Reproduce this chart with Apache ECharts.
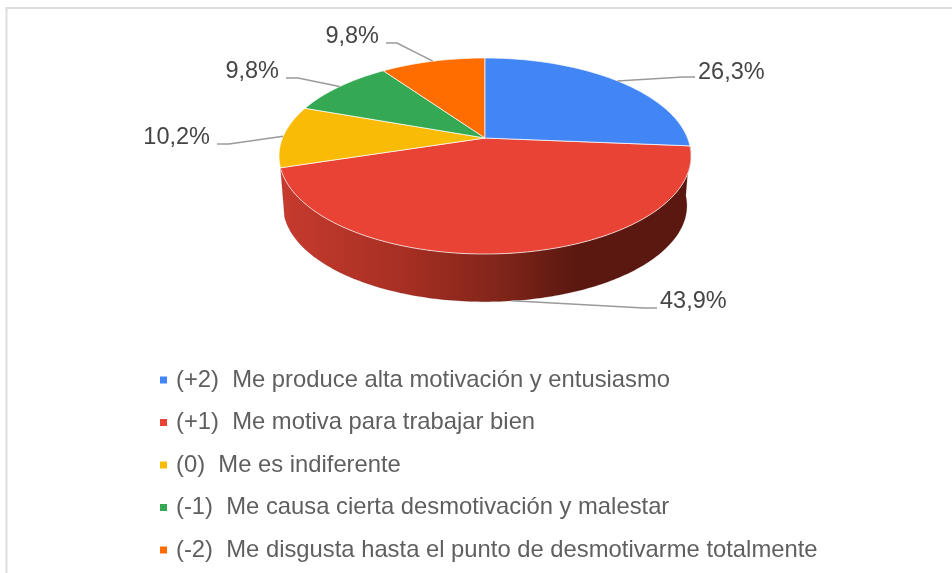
<!DOCTYPE html>
<html>
<head>
<meta charset="utf-8">
<style>html,body{margin:0;padding:0;background:#fff}#c{width:952px;height:573px}</style>
<script src="https://cdn.jsdelivr.net/npm/echarts@6/dist/echarts.min.js"></script>
</head>
<body>
<div id="c"></div>
<script>
const categories = [
  '(+2)  Me produce alta motivación y entusiasmo',
  '(+1)  Me motiva para trabajar bien',
  '(0)  Me es indiferente',
  '(-1)  Me causa cierta desmotivación y malestar',
  '(-2)  Me disgusta hasta el punto de desmotivarme totalmente'
];
const values = [26.3, 43.9, 10.2, 9.8, 9.8];
const valueLabels = ['26,3%', '43,9%', '10,2%', '9,8%', '9,8%'];
const colors = ['#4285F4', '#E94335', '#F9BB05', '#34A853', '#FF6D01'];

// Perspective projection of the pie disc (layout only)
const P = { cx: 485, cy: 138, rx: 202.5, ry: 94.7, k: 0.1837, depth: 50, bottomScale: 0.98 };
// Leader-line elbow and label anchor per slice (layout only)
const labelLayout = [
  { elbow: [683, 77], end: [695, 77], text: [698, 73], align: 'left' },
  { elbow: [644, 308], end: [657, 308], text: [660, 302], align: 'left' },
  { elbow: [229, 144], end: [217, 144], text: [210, 138], align: 'right' },
  { elbow: [298, 78], end: [286, 78], text: [279, 72], align: 'right' },
  { elbow: [397, 43], end: [386, 43], text: [379, 37], align: 'right' }
];

function project(frac, bottom) {
  const a = frac * 2 * Math.PI;
  const x = Math.sin(a), y = -Math.cos(a);
  const w = 1 - P.k * y;
  const s = bottom ? P.bottomScale : 1;
  return [P.cx + s * P.rx * x / w, P.cy + (bottom ? P.depth : 0) + s * P.ry * y / w];
}
function arc(f0, f1, bottom) {
  const n = Math.max(2, Math.ceil((f1 - f0) * 400));
  const pts = [];
  for (let i = 0; i <= n; i++) pts.push(project(f0 + (f1 - f0) * i / n, bottom));
  return pts;
}
const total = values.reduce((a, b) => a + b, 0);
const sideGradient = new echarts.graphic.LinearGradient(0, 0, 1, 0, [
  { offset: 0, color: '#C63B2E' },
  { offset: 0.3, color: '#A72F23' },
  { offset: 0.55, color: '#7E2419' },
  { offset: 0.72, color: '#5A1810' },
  { offset: 1, color: '#5A1810' }
]);

let acc = 0;
const series = categories.map((name, i) => {
  const start = acc / total;
  acc += values[i];
  const end = acc / total;
  const mid = (start + end) / 2;
  return {
    type: 'custom',
    name,
    coordinateSystem: 'none',
    itemStyle: { color: colors[i] },
    z: i === 0 ? 3 : 2,
    data: [[start, end, mid, values[i]]],
    renderItem(params, api) {
      const f0 = api.value(0), f1 = api.value(1), fm = api.value(2);
      const L = labelLayout[i];
      const children = [];
      const hasSide = f0 < 0.5 && f1 > 0.5;
      if (hasSide) {
        const top = arc(f0, f1, false);
        const bot = arc(f0, f1, true).reverse();
        children.push({
          type: 'polygon',
          shape: { points: top.concat(bot) },
          style: { fill: sideGradient, stroke: 'rgba(90,24,16,0.35)', lineWidth: 0.5 }
        });
      }
      const face = [[P.cx, P.cy]].concat(arc(f0, f1, false));
      children.push({
        type: 'polygon',
        shape: { points: face },
        style: { fill: colors[i], stroke: 'rgba(255,255,255,0.7)', lineWidth: 1 }
      });
      const anchor = project(fm, hasSide);
      children.push({
        type: 'polyline',
        shape: { points: [anchor, L.elbow, L.end] },
        style: { fill: null, stroke: '#9A9A9A', lineWidth: 1.5 }
      });
      children.push({
        type: 'text',
        style: {
          x: L.text[0], y: L.text[1],
          text: valueLabels[i],
          fill: '#454545',
          font: '23.5px "Liberation Sans", Arial, sans-serif',
          align: L.align, verticalAlign: 'middle'
        }
      });
      return { type: 'group', children };
    }
  };
});

const chart = echarts.init(document.getElementById('c'), null, { renderer: 'canvas' });
chart.setOption({
  animation: false,
  backgroundColor: '#fff',
  legend: {
    orient: 'vertical',
    left: 160,
    top: 368,
    padding: 0,
    icon: 'rect',
    itemWidth: 7,
    itemHeight: 7,
    itemGap: 18.5,
    selectedMode: false,
    data: categories,
    textStyle: {
      color: '#5F5F5F',
      fontSize: 23.8,
      lineHeight: 24,
      padding: [0, 0, 0, 4],
      fontFamily: '"Liberation Sans", Arial, sans-serif'
    }
  },
  graphic: [
    { type: 'line', silent: true, shape: { x1: 7, y1: 8, x2: 952, y2: 8 }, style: { stroke: '#DDDDDD', lineWidth: 2 } },
    { type: 'line', silent: true, shape: { x1: 6.5, y1: 7, x2: 6.5, y2: 573 }, style: { stroke: '#DDDDDD', lineWidth: 2 } }
  ],
  series
});
</script>
</body>
</html>
